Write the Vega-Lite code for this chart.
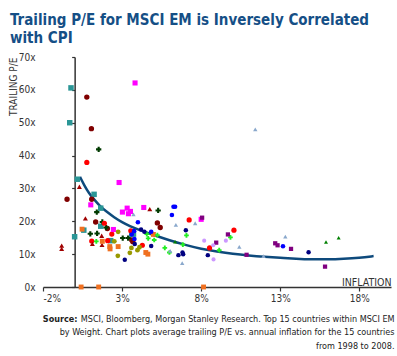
{
  "$schema": "https://vega.github.io/schema/vega-lite/v6.json",
  "autosize": {"type": "none"},
  "width": 348,
  "height": 230,
  "padding": {"left": 43, "top": 57, "right": 6, "bottom": 69},
  "background": "white",
  "config": {
    "view": {"stroke": null},
    "font": "DejaVu Sans Condensed, Roboto, sans-serif",
    "axis": {"labelFont": "DejaVu Sans Condensed, Roboto, sans-serif", "titleFont": "DejaVu Sans Condensed, Roboto, sans-serif", "grid": false}
  },
  "title": {
    "text": ["Trailing P/E for MSCI EM is Inversely Correlated", "with CPI"],
    "anchor": "start",
    "frame": "group",
    "font": "DejaVu Sans Condensed, Roboto, sans-serif",
    "fontSize": 15,
    "fontWeight": "bold",
    "color": "#154f86",
    "lineHeight": 18,
    "dx": -33,
    "offset": 6
  },
  "datasets": {
    "pts": [
      {"country": "A", "inflation": -0.23, "pe": 60.6},
      {"country": "A", "inflation": -0.31, "pe": 50.0},
      {"country": "A", "inflation": 0.17, "pe": 32.8},
      {"country": "A", "inflation": 1.23, "pe": 28.2},
      {"country": "A", "inflation": 1.65, "pe": 24.0},
      {"country": "A", "inflation": 1.65, "pe": 18.5},
      {"country": "A", "inflation": 0.58, "pe": 17.3},
      {"country": "A", "inflation": 0.0, "pe": 15.3},
      {"country": "A", "inflation": 2.28, "pe": 14.1},
      {"country": "A", "inflation": 3.61, "pe": 16.1},
      {"country": "A", "inflation": 3.72, "pe": 16.1},
      {"country": "B", "inflation": 0.77, "pe": 57.8},
      {"country": "B", "inflation": 1.06, "pe": 48.2},
      {"country": "B", "inflation": -0.48, "pe": 26.7},
      {"country": "B", "inflation": 1.08, "pe": 26.7},
      {"country": "B", "inflation": 1.33, "pe": 19.8},
      {"country": "B", "inflation": 2.07, "pe": 17.8},
      {"country": "B", "inflation": 3.61, "pe": 14.3},
      {"country": "B", "inflation": 3.68, "pe": 13.8},
      {"country": "B", "inflation": 5.23, "pe": 19.5},
      {"country": "B", "inflation": 5.41, "pe": 18.1},
      {"country": "C", "inflation": 1.52, "pe": 41.9},
      {"country": "C", "inflation": 1.40, "pe": 22.8},
      {"country": "C", "inflation": 1.75, "pe": 19.8},
      {"country": "C", "inflation": 1.99, "pe": 18.1},
      {"country": "C", "inflation": 0.99, "pe": 16.2},
      {"country": "C", "inflation": 1.42, "pe": 16.3},
      {"country": "C", "inflation": 3.04, "pe": 14.9},
      {"country": "C", "inflation": 3.38, "pe": 14.9},
      {"country": "C", "inflation": 5.28, "pe": 23.3},
      {"country": "D", "inflation": 0.77, "pe": 37.9},
      {"country": "D", "inflation": 1.88, "pe": 19.4},
      {"country": "D", "inflation": 2.35, "pe": 16.1},
      {"country": "D", "inflation": 1.08, "pe": 14.0},
      {"country": "D", "inflation": 2.09, "pe": 14.1},
      {"country": "D", "inflation": 3.55, "pe": 17.1},
      {"country": "D", "inflation": 4.28, "pe": 12.7},
      {"country": "D", "inflation": 7.24, "pe": 20.4},
      {"country": "D", "inflation": 10.07, "pe": 17.3},
      {"country": "D", "inflation": 8.53, "pe": 11.9},
      {"country": "E", "inflation": 3.82, "pe": 62.1},
      {"country": "E", "inflation": 2.81, "pe": 31.8},
      {"country": "E", "inflation": 1.02, "pe": 25.0},
      {"country": "E", "inflation": 2.45, "pe": 17.5},
      {"country": "E", "inflation": 3.02, "pe": 22.8},
      {"country": "E", "inflation": 3.32, "pe": 24.0},
      {"country": "E", "inflation": 3.53, "pe": 23.0},
      {"country": "E", "inflation": 3.40, "pe": 22.3},
      {"country": "E", "inflation": 4.37, "pe": 24.2},
      {"country": "E", "inflation": 8.0, "pe": 20.6},
      {"country": "F", "inflation": 0.30, "pe": 30.5},
      {"country": "F", "inflation": 0.68, "pe": 20.9},
      {"country": "F", "inflation": 1.71, "pe": 15.6},
      {"country": "F", "inflation": 1.12, "pe": 13.1},
      {"country": "F", "inflation": 1.73, "pe": 12.8},
      {"country": "F", "inflation": -0.82, "pe": 12.6},
      {"country": "F", "inflation": -0.82, "pe": 11.6},
      {"country": "F", "inflation": 4.75, "pe": 23.7},
      {"country": "G", "inflation": 0.47, "pe": 17.6},
      {"country": "G", "inflation": 1.75, "pe": 13.9},
      {"country": "G", "inflation": 2.22, "pe": 12.3},
      {"country": "G", "inflation": 2.24, "pe": 11.6},
      {"country": "G", "inflation": 2.75, "pe": 12.3},
      {"country": "G", "inflation": 0.41, "pe": 0},
      {"country": "G", "inflation": 1.52, "pe": 0},
      {"country": "G", "inflation": 8.15, "pe": 0},
      {"country": "G", "inflation": 4.98, "pe": 16.0},
      {"country": "G", "inflation": 4.50, "pe": 10.5},
      {"country": "G", "inflation": 4.63, "pe": 10.0},
      {"country": "H", "inflation": 2.75, "pe": 16.8},
      {"country": "H", "inflation": 2.51, "pe": 13.9},
      {"country": "H", "inflation": 2.73, "pe": 9.5},
      {"country": "H", "inflation": 4.10, "pe": 12.1},
      {"country": "H", "inflation": 3.97, "pe": 11.2},
      {"country": "H", "inflation": 3.59, "pe": 11.9},
      {"country": "H", "inflation": 3.49, "pe": 10.4},
      {"country": "I", "inflation": 1.37, "pe": 13.9},
      {"country": "I", "inflation": 4.56, "pe": 16.1},
      {"country": "I", "inflation": 5.23, "pe": 15.8},
      {"country": "I", "inflation": 4.65, "pe": 14.8},
      {"country": "I", "inflation": 5.03, "pe": 14.3},
      {"country": "I", "inflation": 5.70, "pe": 11.9},
      {"country": "I", "inflation": 5.99, "pe": 10.5},
      {"country": "I", "inflation": 6.84, "pe": 12.9},
      {"country": "I", "inflation": 7.07, "pe": 15.7},
      {"country": "I", "inflation": 9.85, "pe": 15.1},
      {"country": "I", "inflation": 9.14, "pe": 11.2},
      {"country": "J", "inflation": 6.25, "pe": 24.4},
      {"country": "J", "inflation": 6.35, "pe": 24.4},
      {"country": "J", "inflation": 6.15, "pe": 21.9},
      {"country": "J", "inflation": 4.0, "pe": 19.7},
      {"country": "J", "inflation": 3.76, "pe": 17.0},
      {"country": "J", "inflation": 3.61, "pe": 16.0},
      {"country": "J", "inflation": 3.78, "pe": 14.6},
      {"country": "J", "inflation": 4.84, "pe": 16.8},
      {"country": "J", "inflation": 13.17, "pe": 12.4},
      {"country": "K", "inflation": 4.20, "pe": 17.5},
      {"country": "K", "inflation": 4.41, "pe": 16.8},
      {"country": "K", "inflation": 3.80, "pe": 13.1},
      {"country": "K", "inflation": 4.84, "pe": 12.5},
      {"country": "K", "inflation": 3.17, "pe": 8.3},
      {"country": "K", "inflation": 6.56, "pe": 9.7},
      {"country": "K", "inflation": 6.82, "pe": 10.5},
      {"country": "K", "inflation": 6.86, "pe": 10.0},
      {"country": "K", "inflation": 7.03, "pe": 17.3},
      {"country": "K", "inflation": 8.42, "pe": 9.7},
      {"country": "K", "inflation": 14.79, "pe": 10.6},
      {"country": "L", "inflation": 3.72, "pe": 22.1},
      {"country": "L", "inflation": 6.40, "pe": 18.9},
      {"country": "L", "inflation": 7.62, "pe": 19.4},
      {"country": "L", "inflation": 6.04, "pe": 11.0},
      {"country": "L", "inflation": 6.80, "pe": 7.3},
      {"country": "L", "inflation": 10.41, "pe": 12.2},
      {"country": "L", "inflation": 13.32, "pe": 15.3},
      {"country": "L", "inflation": 11.42, "pe": 48.0},
      {"country": "L", "inflation": 11.94, "pe": 9.4},
      {"country": "M", "inflation": 8.06, "pe": 21.1},
      {"country": "M", "inflation": 9.69, "pe": 16.0},
      {"country": "M", "inflation": 8.95, "pe": 13.5},
      {"country": "M", "inflation": 10.87, "pe": 9.8},
      {"country": "M", "inflation": 12.68, "pe": 13.3},
      {"country": "M", "inflation": 12.83, "pe": 12.7},
      {"country": "M", "inflation": 13.68, "pe": 11.6},
      {"country": "M", "inflation": 15.83, "pe": 6.2},
      {"country": "N", "inflation": 8.19, "pe": 14.1},
      {"country": "N", "inflation": 9.56, "pe": 14.1},
      {"country": "N", "inflation": 8.76, "pe": 12.7},
      {"country": "N", "inflation": 8.78, "pe": 8.4},
      {"country": "O", "inflation": 6.35, "pe": 13.8},
      {"country": "O", "inflation": 15.89, "pe": 13.7},
      {"country": "O", "inflation": 16.69, "pe": 15.0}
    ],
    "fit": [
      {"inflation": 0.34, "pe": 33.5},
      {"inflation": 0.6, "pe": 31.0},
      {"inflation": 0.9, "pe": 28.6},
      {"inflation": 1.2, "pe": 26.8},
      {"inflation": 1.6, "pe": 24.6},
      {"inflation": 2.0, "pe": 23.0},
      {"inflation": 2.5, "pe": 21.2},
      {"inflation": 3.0, "pe": 19.7},
      {"inflation": 3.5, "pe": 18.5},
      {"inflation": 4.0, "pe": 17.5},
      {"inflation": 5.0, "pe": 15.8},
      {"inflation": 6.0, "pe": 14.2},
      {"inflation": 7.0, "pe": 12.8},
      {"inflation": 8.0, "pe": 11.6},
      {"inflation": 9.0, "pe": 10.8},
      {"inflation": 10.0, "pe": 10.1},
      {"inflation": 11.0, "pe": 9.6},
      {"inflation": 12.0, "pe": 9.2},
      {"inflation": 13.0, "pe": 8.9},
      {"inflation": 14.0, "pe": 8.6},
      {"inflation": 15.0, "pe": 8.4},
      {"inflation": 16.0, "pe": 8.4},
      {"inflation": 17.0, "pe": 8.6},
      {"inflation": 18.0, "pe": 8.9},
      {"inflation": 18.9, "pe": 9.4}
    ]
  },
  "resolve": {"axis": {"x": "independent", "y": "independent"}},
  "layer": [
    {
      "data": {"name": "fit"},
      "mark": {"type": "line", "color": "#0e4a7c", "strokeWidth": 2.5, "interpolate": "basis"},
      "encoding": {
        "x": {
          "field": "inflation", "type": "quantitative",
          "scale": {"domain": [-2, 20], "nice": false, "zero": false},
          "axis": {
            "orient": "top", "domain": false, "ticks": false, "labels": false,
            "title": ["MSCI, Bloomberg, Morgan Stanley Research. Top 15 countries within MSCI EM", "by Weight. Chart plots average trailing P/E vs. annual inflation for the 15 countries", "from 1998 to 2008."],
            "titleX": 351, "titleY": 264, "titleAlign": "right", "titleAnchor": null, "titleBaseline": "alphabetic", "titleAngle": 0,
            "titleFontSize": 9, "titleFontWeight": "normal", "titleColor": "#222", "titleLineHeight": 13.5
          }
        },
        "y": {
          "field": "pe", "type": "quantitative",
          "scale": {"domain": [0, 70], "nice": false},
          "axis": {
            "orient": "right", "domain": false, "ticks": false, "labels": false,
            "title": "Source:", "titleX": -314, "titleY": 264, "titleAngle": 0, "titleAlign": "right", "titleBaseline": "alphabetic",
            "titleFontSize": 9, "titleFontWeight": "bold", "titleColor": "#222"
          }
        }
      }
    },
    {
      "data": {"name": "pts"},
      "mark": {"type": "point", "filled": true, "opacity": 1},
      "encoding": {
        "x": {
          "field": "inflation", "type": "quantitative",
          "scale": {"domain": [-2, 20], "nice": false, "zero": false},
          "axis": {
            "orient": "bottom", "values": [-2, 3, 8, 13, 18], "labelExpr": "datum.value + '%'",
            "domainColor": "#333", "domainWidth": 1.5, "tickColor": "#333", "tickSize": 4, "tickWidth": 1.2,
            "labelFontSize": 10, "labelColor": "#333", "labelPadding": 2,
            "title": "INFLATION", "titleX": 348, "titleY": -2, "titleAlign": "right", "titleBaseline": "alphabetic", "titleAngle": 0,
            "titleFontSize": 10.5, "titleFontWeight": "normal", "titleColor": "#333"
          }
        },
        "y": {
          "field": "pe", "type": "quantitative",
          "scale": {"domain": [0, 70], "nice": false},
          "axis": {
            "orient": "left", "offset": -31.64, "values": [0, 10, 20, 30, 40, 50, 60, 70], "labelExpr": "datum.value + 'x'",
            "domainColor": "#333", "domainWidth": 1.5, "tickColor": "#333", "tickSize": 3, "tickWidth": 1.2,
            "labelFontSize": 10, "labelColor": "#333", "labelPadding": 36.5,
            "title": "TRAILING P/E", "titleX": -61, "titleY": 0, "titleAngle": -90, "titleAlign": "right", "titleBaseline": "middle",
            "titleFontSize": 10, "titleFontWeight": "normal", "titleColor": "#333"
          }
        },
        "color": {
          "field": "country", "type": "nominal", "legend": null,
          "scale": {"domain": ["A","B","C","D","E","F","G","H","I","J","K","L","M","N","O"],
                    "range": ["#2a9696","#800000","#003a00","#ff0000","#ff00ff","#a00000","#f07020","#999900","#22ee22","#0000ff","#000080","#8aa8cc","#800080","#cc99ff","#008000"]}
        },
        "shape": {
          "field": "country", "type": "nominal", "legend": null,
          "scale": {"domain": ["A","B","C","D","E","F","G","H","I","J","K","L","M","N","O"],
                    "range": ["square","circle","cross","circle","square","triangle-up","square","circle","cross","circle","circle","triangle-up","square","circle","triangle-up"]}
        },
        "size": {
          "field": "country", "type": "nominal", "legend": null,
          "scale": {"domain": ["A","B","C","D","E","F","G","H","I","J","K","L","M","N","O"],
                    "range": [30,16,14,18,18,16,22,22,14,26,18,20,18,18,16]}
        }
      }
    }
  ]
}
